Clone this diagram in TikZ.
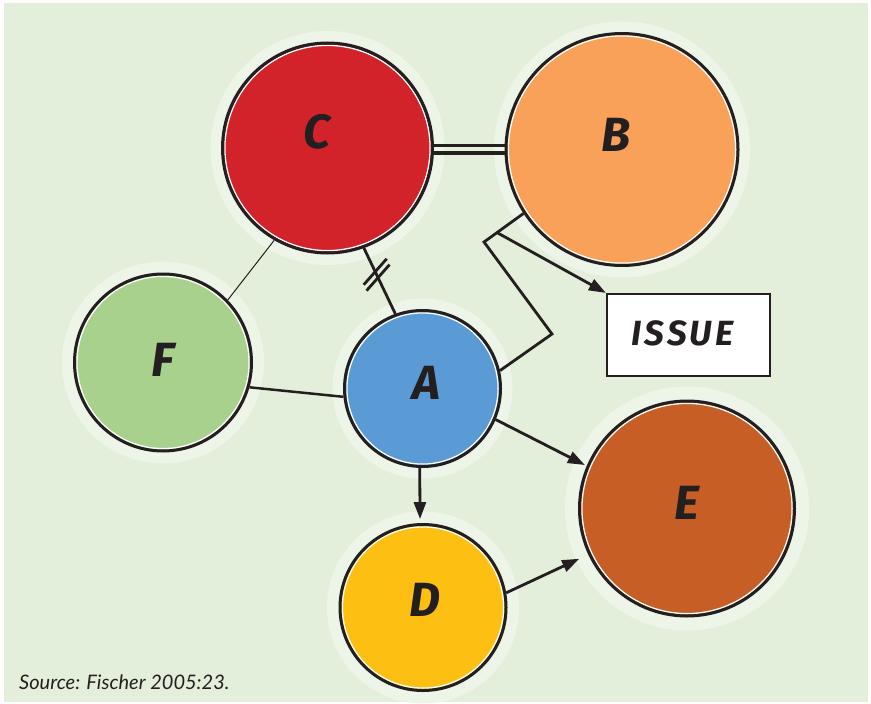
\documentclass[tikz,border=0pt]{standalone}
\usepackage{fontspec}
\setmainfont{Lato}
\newfontfamily\hand{Fira Sans}
\newfontfamily\handwide[LetterSpace=9]{Fira Sans}
\usetikzlibrary{arrows.meta,calc}
\definecolor{bgc}{HTML}{E3EFDA}
\definecolor{haloc}{HTML}{EDF5E8}
\definecolor{ink}{HTML}{231F20}
\definecolor{cred}{HTML}{D2232A}
\definecolor{corange}{HTML}{F9A159}
\definecolor{cgreen}{HTML}{A9D18E}
\definecolor{cblue}{HTML}{5B9BD5}
\definecolor{cbrown}{HTML}{C65E26}
\definecolor{cyellow}{HTML}{FDC012}
\pgfdeclarelayer{back}
\pgfdeclarelayer{halo}
\pgfsetlayers{back,halo,main}
\tikzset{
  bub/.style={circle, inner sep=0pt, draw=ink, line width=3bp, fill=#1,
    path picture={\draw[white, line width=1.3bp]
      let \p1=(path picture bounding box.center), \p2=(path picture bounding box.north)
      in (\p1) circle[radius={\y2-\y1-2.4bp}];}},
  lett/.style={font=\hand\bfseries\itshape\fontsize{48bp}{48bp}\selectfont, text=ink},
  conn/.style={draw=ink, line width=2.8bp},
  arr/.style={conn, -{Triangle[length=17bp,width=12bp]}},
}
\begin{document}
\begin{tikzpicture}[x=1bp,y=-1bp]
\useasboundingbox (0,0) rectangle (871,704);
\begin{pgfonlayer}{back}
  \fill[white] (0,0) rectangle (871,704);
  \fill[bgc] (4,3) rectangle (868,702);
\end{pgfonlayer}

\node[bub=cred, minimum size=210bp, label={[lett, xshift=-10.5bp, yshift=16bp]center:C}] (C) at (327.5,148) {};
\node[bub=corange, minimum size=232bp, label={[lett, xshift=-6bp, yshift=14.5bp]center:B}] (B) at (622,149.5) {};
\node[bub=cgreen, minimum size=177bp, label={[lett, yshift=2.5bp]center:F}] (F) at (163,362.5) {};
\node[bub=cblue, minimum size=156bp, label={[lett, xshift=3.5bp, yshift=5.5bp]center:A}] (A) at (422.5,388.5) {};
\node[bub=cbrown, minimum size=215bp, label={[lett, yshift=5.5bp]center:E}] (E) at (687,508.5) {};
\node[bub=cyellow, minimum size=166bp, label={[lett, xshift=2bp, yshift=7.5bp]center:D}] (D) at (423,607.5) {};

\node[draw=ink, fill=white, line width=2.2bp, minimum width=163bp, minimum height=82bp, inner sep=0pt,
  label={[font=\handwide\bfseries\itshape\fontsize{35bp}{35bp}\selectfont, text=ink, xshift=-6bp, yshift=2bp]center:ISSUE}] (I) at (688.5,335) {};

\node[anchor=base west, font=\itshape\fontsize{20bp}{24bp}\selectfont, text=ink, inner sep=0pt] (src) at (19,689) {Source: Fischer 2005:23.};

\begin{pgfonlayer}{halo}
  \foreach \n/\r in {C/117, B/128, F/101, A/90, E/122, D/96}
    \fill[haloc] (\n) circle[radius=\r bp];
\end{pgfonlayer}

% C = B
\coordinate (cb) at (C.east |- B.west);
\draw[conn, line width=3bp] ([yshift=3.5bp]cb) -- ([yshift=3.5bp]B.west);
\draw[conn, line width=3bp] ([yshift=-3.5bp]cb) -- ([yshift=-3.5bp]B.west);
% C - F
\draw[draw=ink, line width=1bp] (C.240) -- (F.44);
% C - A with marks
\draw[conn] (C.290) -- (A.110) coordinate[pos=0.36] (h1) coordinate[pos=0.45] (h2);
\draw[conn] ($(h1)+(-11.5,13)$) -- ($(h1)+(11.5,-13)$);
\draw[conn] ($(h2)+(-11.5,13)$) -- ($(h2)+(11.5,-13)$);
% B - A zigzag
\coordinate (k1) at (484,242);
\coordinate (k2) at (552,334);
\draw[conn, line join=miter] (B.213) -- coordinate[pos=0.67] (bi) (k1) -- (k2) -- (A.13);
\draw[arr] (bi) -- (I.north west);
% F - A
\draw[conn, line width=2.5bp] (F.344) -- (A.186);
% arrows
\draw[arr, shorten >=4bp] (A.268) -- (D.92);
\draw[arr, shorten >=2bp] (A.337) -- (E.157);
\draw[arr, shorten >=10bp] (D.10) -- (E.205);
\end{tikzpicture}
\end{document}
